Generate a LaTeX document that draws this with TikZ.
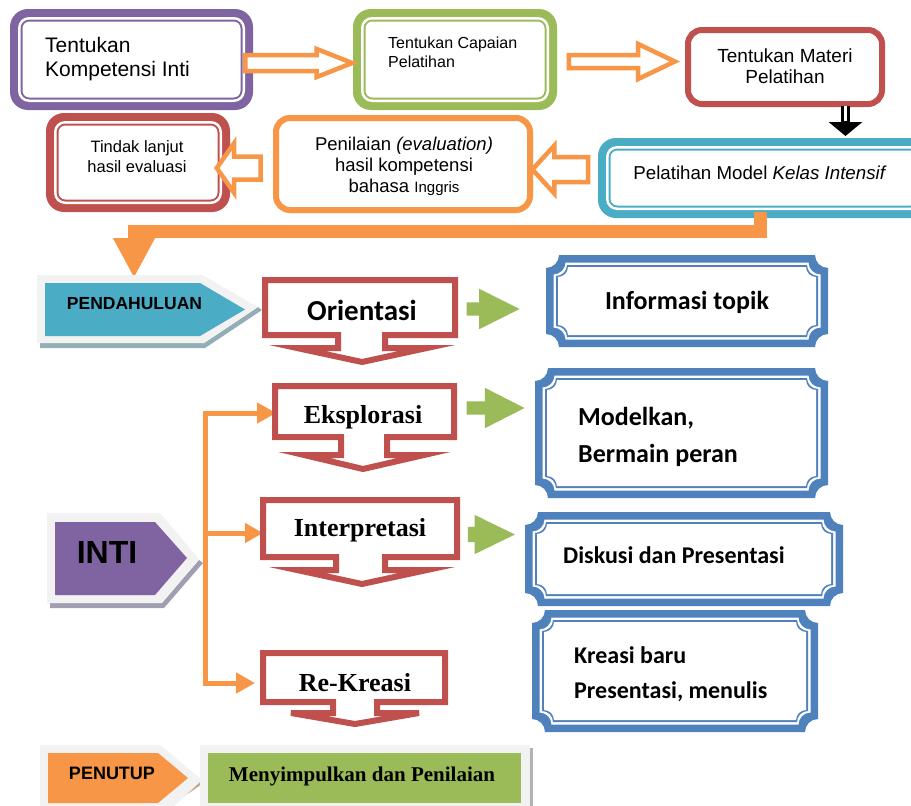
\documentclass[tikz,border=0pt]{standalone}
\usepackage{fontspec}
\setmainfont{Liberation Sans}
\newfontfamily\calfont{Carlito}
\newfontfamily\serfont{Liberation Serif}
\usetikzlibrary{shapes.arrows,arrows.meta}

\definecolor{cpurple}{HTML}{8064A2}
\definecolor{cgreen}{HTML}{9BBB59}
\definecolor{cred}{HTML}{C0504D}
\definecolor{corange}{HTML}{F79646}
\definecolor{ccyan}{HTML}{4BACC6}
\definecolor{cblue}{HTML}{4F81BD}
\definecolor{cpale}{HTML}{F2F2F2}
\definecolor{cshadeblue}{HTML}{93AFB6}
\definecolor{cshadepurple}{HTML}{A29EB2}
\definecolor{ctan}{HTML}{C9A98A}

\newcommand\fs[2]{\fontsize{#1}{#2}\selectfont}

% rounded frame: thick band, thin white line, thin coloured line
\newcommand\dblbox[5]{%
  \fill[#1, rounded corners=18pt] ({#2},{#3}) rectangle ({#4},{#5});
  \fill[white, rounded corners=11pt] ({#2+8},{#3+8}) rectangle ({#4-8},{#5-8});
  \fill[#1, rounded corners=9pt] ({#2+10.5},{#3+10.5}) rectangle ({#4-10.5},{#5-10.5});
  \fill[white, rounded corners=7pt] ({#2+12.5},{#3+12.5}) rectangle ({#4-12.5},{#5-12.5});}

% plaque outline with concave corners: colour, x1, y1, x2, y2, corner radius
\newcommand\plqfill[6]{%
  \fill[#1] ({#2+#6},{#3}) -- ({#4-#6},{#3})
    .. controls ({#4-#6},{#3+0.55*#6}) and ({#4-0.55*#6},{#3+#6}) .. ({#4},{#3+#6})
    -- ({#4},{#5-#6})
    .. controls ({#4-0.55*#6},{#5-#6}) and ({#4-#6},{#5-0.55*#6}) .. ({#4-#6},{#5})
    -- ({#2+#6},{#5})
    .. controls ({#2+#6},{#5-0.55*#6}) and ({#2+0.55*#6},{#5-#6}) .. ({#2},{#5-#6})
    -- ({#2},{#3+#6})
    .. controls ({#2+0.55*#6},{#3+#6}) and ({#2+#6},{#3+0.55*#6}) .. ({#2+#6},{#3})
    -- cycle;}
\newcommand\plaque[4]{%
  \plqfill{cblue}{#1}{#2}{#3}{#4}{13}
  \plqfill{white}{#1+7.5}{#2+7.5}{#3-7.5}{#4-7.5}{12}
  \plqfill{cblue}{#1+10}{#2+10}{#3-10}{#4-10}{11}
  \plqfill{white}{#1+12}{#2+12}{#3-12}{#4-12}{10}}

\tikzset{
  lbl/.style={inner sep=0pt, align=center},
  hollowarrow/.style={single arrow, draw=corange, fill=white, line width=4.5pt,
    inner xsep=0pt, line join=miter},
  greenarrow/.style={single arrow, fill=cgreen, draw=none, inner xsep=0pt,
    inner ysep=6.5pt, single arrow head extend=13.5pt, single arrow tip angle=53},
  callout/.style={draw=cred, line width=6pt, fill=white, line join=miter},
  tree/.style={draw=corange, line width=5pt},
}

\begin{document}
\begin{tikzpicture}[x=1pt,y=-1pt]
\useasboundingbox (0,0) rectangle (911,806);
\clip (0,0) rectangle (911,806);
\fill[white] (0,0) rectangle (911,806);

% ---------- top row ----------
\dblbox{cpurple}{10}{9}{253}{110}
\node[lbl, anchor=west, align=left, font=\fs{21}{24}] (kompetensi) at (45,59)
  {Tentukan\\Kompetensi Inti};

\dblbox{cgreen}{353}{9}{557}{110}
\node[lbl, anchor=west, align=left, font=\fs{16}{19}] (capaian) at (388,52.5)
  {Tentukan Capaian\\Pelatihan};

\draw[cred, line width=6pt, rounded corners=14pt, fill=white] (688,30) rectangle (882,104);
\node[lbl, font=\fs{19}{21.5}] (materi) at (785,66) {Tentukan Materi\\Pelatihan};

% ---------- second row ----------
\dblbox{cred}{46}{113}{230}{212}
\node[lbl, font=\fs{16.5}{20}] (tindak) at (137,157) {Tindak lanjut\\hasil evaluasi};

\draw[corange, line width=6pt, rounded corners=14pt, fill=white] (276,118) rectangle (530,210);
\node[lbl, font=\fs{18.5}{21}] (penilaian) at (404,166)
  {Penilaian \textit{(evaluation)}\\hasil kompetensi\\bahasa {\fs{15}{21}Inggris}};

\dblbox{ccyan}{598}{138}{930}{218}
\node[lbl, font=\fs{18.7}{22}] (model) at (760,173) {Pelatihan Model \textit{Kelas Intensif}};

% hollow block arrows between the boxes
\node[hollowarrow, inner ysep=5.75pt, single arrow head extend=6pt,
  single arrow tip angle=43, minimum height=107pt] (a1) at (288.6,63) {};
\node[hollowarrow, inner ysep=4.25pt, single arrow head extend=11pt,
  single arrow tip angle=51, minimum height=106pt] (a2) at (615,61.5) {};
\node[hollowarrow, inner ysep=10.25pt, single arrow head extend=11.5pt,
  single arrow tip angle=95, minimum height=55.75pt, shape border rotate=180] (a3) at (566,169.5) {};
\node[hollowarrow, inner ysep=9.25pt, single arrow head extend=13.5pt,
  single arrow tip angle=110, minimum height=44pt, shape border rotate=180] (a4) at (242.75,168) {};

% black arrow from the material box down to the training box
\coordinate (materibot) at (845.5,106);
\coordinate (modeltop) at (845.5,136);
\coordinate (shaftend) at (845.5,121);
\draw[black, line width=9pt, -{Triangle[length=14pt,width=33pt]}] (materibot) -- (modeltop);
\draw[white, line width=2.5pt] (materibot) -- (shaftend);

% ---------- connector into the lesson stages ----------
\coordinate (modelbot) at (760,212);
\coordinate (pendtop) at (134,278);
\draw[corange, line width=13pt, line join=miter, -{Triangle[length=40pt,width=39pt]}]
  (modelbot) -- (760,231.5) -| (pendtop);

% ---------- stage labels ----------
\fill[cshadeblue] (40,343) -- (204,343) -- (258,307) -- (262,310) -- (205,348) -- (40,348) -- cycle;
\fill[cpale] (37,275) -- (202,275) -- (258,307) -- (204,343) -- (37,343) -- cycle;
\fill[ccyan] (45,283) -- (200,283) -- (245,309.5) -- (200,336) -- (45,336) -- cycle;
\node[lbl, font=\bfseries\fs{17.5}{20}] (pend) at (134.5,303.5) {PENDAHULUAN};

\fill[cshadepurple] (50,603) -- (162,603) -- (199,560) -- (203,563) -- (164,608) -- (50,608) -- cycle;
\fill[cpale] (47,513) -- (160,513) -- (199,559) -- (162,603) -- (47,603) -- cycle;
\fill[cpurple] (55,522) -- (155,522) -- (187,558) -- (155,595) -- (55,595) -- cycle;
\node[lbl, font=\bfseries\fs{32}{36}] (inti) at (107,552) {INTI};

\draw[ctan, line width=3pt] (167,806) -- (204,781);
\fill[cpale] (40,745) -- (160,745) -- (202,780) -- (170,810) -- (40,810) -- cycle;
\fill[corange] (48,753) -- (158,753) -- (188,778) -- (158,803) -- (48,803) -- cycle;
\node[lbl, font=\bfseries\fs{18}{20}] (penutup) at (112,773) {PENUTUP};

\fill[cpale] (200,745) rectangle (530,810);
\fill[black!30] (530,748) rectangle (533,810);
\fill[cgreen] (208,753) rectangle (521,803);
\node[lbl, font=\serfont\bfseries\fs{21}{25}] (simpul) at (362,776) {Menyimpulkan dan Penilaian};

% ---------- green arrows to the activities ----------
\node[greenarrow, minimum height=53pt] (g1) at (486.5,309) {};
\node[greenarrow, minimum height=58pt, single arrow tip angle=54] (g2) at (489,408) {};
\node[greenarrow, minimum height=47pt, inner ysep=7.5pt, single arrow head extend=12pt,
  single arrow tip angle=52] (g3) at (483.5,534.5) {};

% ---------- branching connector of the core stage ----------
\coordinate (tt) at (205.5,413);
\coordinate (tm) at (205.5,533);
\coordinate (tb) at (205.5,683);
\coordinate (eksin) at (276,413);
\coordinate (intin) at (263,533);
\coordinate (rekin) at (255,683);
\draw[tree, line join=miter, {Triangle[length=19pt,width=20pt]}-{Triangle[length=19pt,width=20pt]}]
  (eksin) -- (tt) -- (tb) -- (rekin);
\draw[tree, -{Triangle[length=18pt,width=19pt]}] (tm) -- (intin);

% ---------- callout boxes ----------
\draw[callout] (265,280) -- (455,280) -- (455,335) -- (385,335) -- (385,348) -- (427,348)
  -- (362,362) -- (297,348) -- (338,348) -- (338,335) -- (265,335) -- cycle;
\node[lbl, font=\calfont\bfseries\fs{29}{34}] (ori) at (362,310) {Orientasi};

\draw[callout] (275,386) -- (454,386) -- (454,437) -- (387,437) -- (387,455) -- (424,455)
  -- (363,469) -- (304,455) -- (341,455) -- (341,437) -- (275,437) -- cycle;
\node[lbl, font=\serfont\bfseries\fs{26}{30}] (eks) at (363,417) {Eksplorasi};

\draw[callout] (263,500) -- (457,500) -- (457,557) -- (385,557) -- (385,570) -- (427,570)
  -- (362,584) -- (297,570) -- (336,570) -- (336,557) -- (263,557) -- cycle;
\node[lbl, font=\serfont\bfseries\fs{26}{30}] (int) at (360,530) {Interpretasi};

\draw[callout] (263,653) -- (445,653) -- (445,702) -- (377,702) -- (377,713) -- (419,713)
  -- (355,724) -- (291,713) -- (333,713) -- (333,702) -- (263,702) -- cycle;
\node[lbl, font=\serfont\bfseries\fs{26}{30}] (rek) at (355,683) {Re-Kreasi};

% ---------- activity plaques ----------
\plaque{546}{255}{828}{347}
\node[lbl, font=\calfont\bfseries\fs{26}{30}] (info) at (687,302) {Informasi topik};

\plaque{535}{368}{828}{498}
\node[lbl, anchor=west, align=left, font=\calfont\bfseries\fs{26}{37}] (modelkan) at (578,436.5)
  {Modelkan,\\Bermain peran};

\plaque{525}{512}{843}{606}
\node[lbl, anchor=west, font=\calfont\bfseries\fs{24}{28}] (diskusi) at (563,555)
  {Diskusi dan Presentasi};

\plaque{532}{610}{818}{732}
\node[lbl, anchor=west, align=left, font=\calfont\bfseries\fs{24}{35}] (kreasi) at (574,674.5)
  {Kreasi baru\\Presentasi, menulis};
\end{tikzpicture}
\end{document}
